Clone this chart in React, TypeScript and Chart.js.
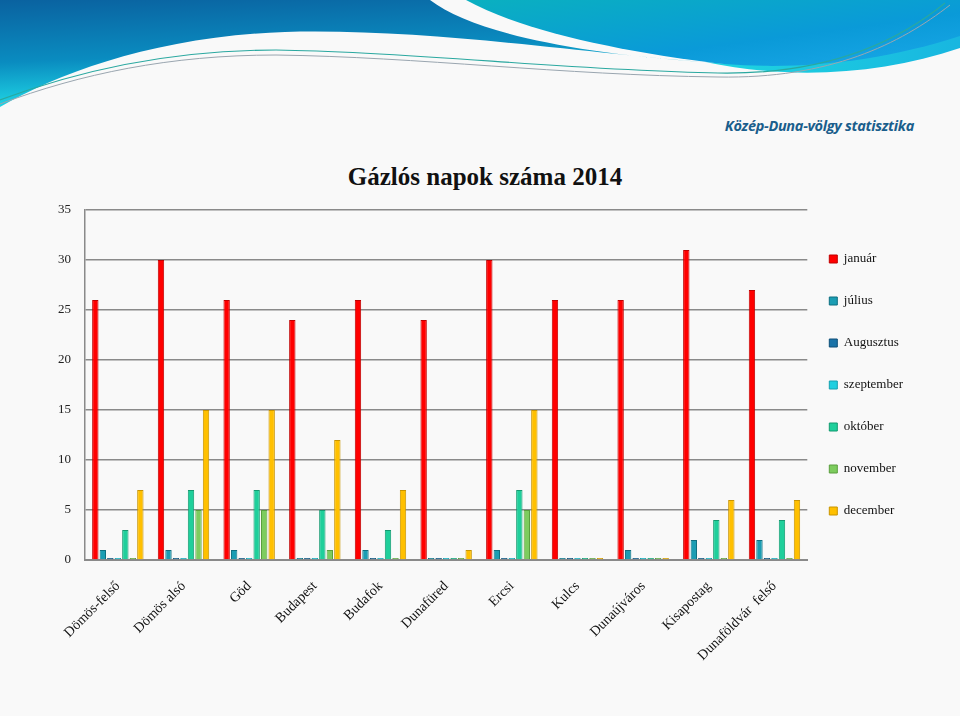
import React, { useEffect, useRef } from "react";
import { Chart, registerables } from "chart.js";

Chart.register(...registerables);

const categories = [
  "Dömös-felső",
  "Dömös alsó",
  "Göd",
  "Budapest",
  "Budafok",
  "Dunafüred",
  "Ercsi",
  "Kulcs",
  "Dunaújváros",
  "Kisapostag",
  "Dunaföldvár  felső",
];
const seriesNames = ["január", "július", "Augusztus", "szeptember", "október", "november", "december"];
const januar = [26, 30, 26, 24, 26, 24, 30, 26, 26, 31, 27];
const julius = [1, 1, 1, 0, 1, 0, 1, 0, 1, 2, 2];
const augusztus = [0, 0, 0, 0, 0, 0, 0, 0, 0, 0, 0];
const szeptember = [0, 0, 0, 0, 0, 0, 0, 0, 0, 0, 0];
const oktober = [3, 7, 7, 5, 3, 0, 7, 0, 0, 4, 4];
const november = [0, 5, 5, 1, 0, 0, 5, 0, 0, 0, 0];
const december = [7, 15, 15, 12, 7, 1, 15, 0, 0, 6, 6];
const yTicks = [0, 5, 10, 15, 20, 25, 30, 35];

const fills = ["#ff0000", "#1b9db3", "#1a73a8", "#1ecfe0", "#1fcf9b", "#7dcc5e", "#ffc000"];
const edges = ["#c00000", "#0e6f80", "#0e4f78", "#14a0b0", "#139a70", "#5a9e3e", "#c89400"];

const shiftLegend = {
  id: "shiftLegend",
  afterLayout(chart: any) {
    const l = chart.legend;
    if (l) {
      l.left -= 7;
      l.right -= 7;
    }
  },
};

function Banner() {
  return (
    <svg width={960} height={120} style={{ position: "absolute", left: 0, top: 0 }}>
      <defs>
        <linearGradient id="gl" x1="0" y1="0" x2="0.25" y2="1">
          <stop offset="0" stopColor="#0a62a0" />
          <stop offset="0.55" stopColor="#0a8cc0" />
          <stop offset="1" stopColor="#22e0ea" />
        </linearGradient>
        <linearGradient id="gr" x1="0" y1="0" x2="1" y2="1">
          <stop offset="0" stopColor="#0ab0c0" />
          <stop offset="0.6" stopColor="#0a9ad8" />
          <stop offset="1" stopColor="#1aa8e8" />
        </linearGradient>
        <linearGradient id="gc" x1="0" y1="0" x2="1" y2="0">
          <stop offset="0" stopColor="#1ed6e0" />
          <stop offset="1" stopColor="#18b6e0" />
        </linearGradient>
      </defs>
      <path d="M0,0 H430 C470,30 560,52 705,62 C600,55 430,28 285,32 C160,36 60,72 0,107 Z" fill="url(#gl)" />
      <path d="M705,62 C800,70 880,60 960,35 V48 C880,75 790,80 705,62 Z" fill="url(#gc)" />
      <path d="M466,0 H960 V36 C880,62 800,70 724,64 C620,52 520,30 466,0 Z" fill="url(#gr)" />
      <path d="M0,100 C80,70 170,50 276,50 C420,52 560,70 718,73 C830,75 900,40 945,3" fill="none" stroke="#2aa8a0" strokeWidth={1.2} />
      <path d="M0,104 C80,74 170,55 276,55 C420,57 560,75 718,77 C830,79 900,44 950,5" fill="none" stroke="#9aa6b0" strokeWidth={1} />
    </svg>
  );
}

export default function App() {
  const ref = useRef<HTMLCanvasElement | null>(null);

  useEffect(() => {
    if (!ref.current) return;
    const data = [januar, julius, augusztus, szeptember, oktober, november, december];
    const chart = new Chart(ref.current, {
      type: "bar",
      data: {
        labels: categories,
        datasets: seriesNames.map((name, i) => ({
          label: name,
          data: data[i],
          backgroundColor: fills[i],
          borderColor: edges[i],
          borderWidth: 1,
          minBarLength: 2,
          categoryPercentage: 0.8,
          barPercentage: 0.85,
        })),
      },
      options: {
        animation: false,
        responsive: false,
        maintainAspectRatio: false,
        layout: { padding: { top: 210, left: 0, right: 40, bottom: 10 } },
        plugins: {
          title: { display: false },
          legend: {
            position: "right",
            fullSize: false,
            align: "center",
            labels: {
              boxWidth: 8,
              boxHeight: 8,
              padding: 29,
              color: "#111",
              font: { family: "'Liberation Serif', serif", size: 13 },
            },
          },
          tooltip: { enabled: false },
        },
        scales: {
          x: {
            grid: { display: false },
            border: { display: true, color: "#8a8a8a", width: 2 },
            ticks: {
              autoSkip: false,
              minRotation: 45,
              maxRotation: 45,
              padding: 10,
              color: "#111",
              font: { family: "'Liberation Serif', serif", size: 14 },
            },
            afterFit: (s: any) => {
              s.height = 146;
            },
          },
          y: {
            min: 0,
            max: 35,
            afterBuildTicks: (s: any) => {
              s.ticks = yTicks.map((v) => ({ value: v }));
            },
            grid: { color: "#8a8a8a", lineWidth: 1.5, drawTicks: false },
            border: { display: true, color: "#8a8a8a", width: 1.5 },
            ticks: {
              padding: 14,
              color: "#222",
              font: { family: "'Liberation Serif', serif", size: 13 },
            },
            afterFit: (s: any) => {
              s.width = 85;
            },
          },
        },
      },
      plugins: [shiftLegend],
    });
    return () => chart.destroy();
  }, []);

  return (
    <div style={{ position: "absolute", left: 0, top: 0, width: 960, height: 716, background: "#f9f9f9", overflow: "hidden" }}>
      <Banner />
      <div
        style={{
          position: "absolute",
          right: 46,
          top: 116,
          fontFamily: "'Open Sans', sans-serif",
          fontStyle: "italic",
          fontWeight: 700,
          fontSize: 14.5,
          color: "#1a5e8c",
          letterSpacing: -0.3,
          whiteSpace: "nowrap",
        }}
      >
        Közép-Duna-völgy statisztika
      </div>
      <div
        style={{
          position: "absolute",
          left: 0,
          width: 970,
          top: 162,
          lineHeight: "30px",
          textAlign: "center",
          fontFamily: "'Liberation Serif', serif",
          fontWeight: 700,
          fontSize: 25,
          color: "#111",
          whiteSpace: "nowrap",
        }}
      >
        Gázlós napok száma 2014
      </div>
      <canvas ref={ref} width={960} height={716} style={{ position: "absolute", left: 0, top: 0 }} />
    </div>
  );
}
